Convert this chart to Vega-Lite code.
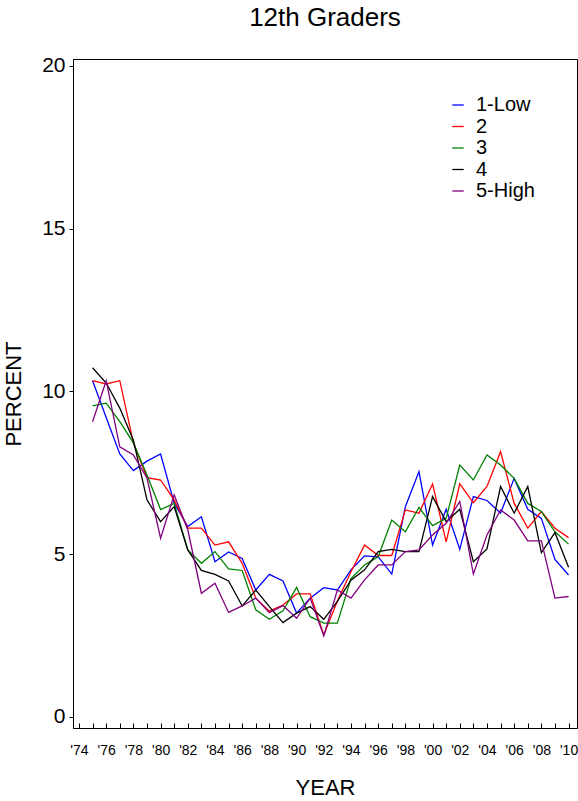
{
  "$schema": "https://vega.github.io/schema/vega-lite/v6.json",
  "width": 504,
  "height": 669,
  "autosize": {"type": "none"},
  "padding": {"left": 73, "top": 59, "right": 1, "bottom": 73},
  "background": "white",
  "title": {"text": "12th Graders", "fontSize": 26, "font": "Liberation Sans", "fontWeight": "normal", "color": "#000", "anchor": "middle", "offset": 24},
  "config": {
    "view": {"stroke": "#000", "strokeWidth": 1},
    "font": "Liberation Sans",
    "axis": {"domainColor": "#000", "tickColor": "#000", "labelColor": "#000", "titleColor": "#000", "grid": false, "labelFont": "Liberation Sans", "titleFont": "Liberation Sans", "titleFontWeight": "normal"},
    "legend": {"labelFont": "Liberation Sans"}
  },
  "data": {"values": [
    {"year":1975,"group":"1-Low","pct":10.33},{"year":1976,"group":"1-Low","pct":9.2},{"year":1977,"group":"1-Low","pct":8.08},{"year":1978,"group":"1-Low","pct":7.57},{"year":1979,"group":"1-Low","pct":7.86},{"year":1980,"group":"1-Low","pct":8.08},{"year":1981,"group":"1-Low","pct":6.57},{"year":1982,"group":"1-Low","pct":5.85},{"year":1983,"group":"1-Low","pct":6.15},{"year":1984,"group":"1-Low","pct":4.77},{"year":1985,"group":"1-Low","pct":5.07},{"year":1986,"group":"1-Low","pct":4.87},{"year":1987,"group":"1-Low","pct":3.9},{"year":1988,"group":"1-Low","pct":4.38},{"year":1989,"group":"1-Low","pct":4.18},{"year":1990,"group":"1-Low","pct":3.19},{"year":1991,"group":"1-Low","pct":3.65},{"year":1992,"group":"1-Low","pct":3.97},{"year":1993,"group":"1-Low","pct":3.9},{"year":1994,"group":"1-Low","pct":4.52},{"year":1995,"group":"1-Low","pct":4.95},{"year":1996,"group":"1-Low","pct":4.92},{"year":1997,"group":"1-Low","pct":4.39},{"year":1998,"group":"1-Low","pct":6.46},{"year":1999,"group":"1-Low","pct":7.54},{"year":2000,"group":"1-Low","pct":5.28},{"year":2001,"group":"1-Low","pct":6.38},{"year":2002,"group":"1-Low","pct":5.15},{"year":2003,"group":"1-Low","pct":6.77},{"year":2004,"group":"1-Low","pct":6.65},{"year":2005,"group":"1-Low","pct":6.26},{"year":2006,"group":"1-Low","pct":7.33},{"year":2007,"group":"1-Low","pct":6.38},{"year":2008,"group":"1-Low","pct":6.1},{"year":2009,"group":"1-Low","pct":4.84},{"year":2010,"group":"1-Low","pct":4.36},
    {"year":1975,"group":"2","pct":10.33},{"year":1976,"group":"2","pct":10.23},{"year":1977,"group":"2","pct":10.33},{"year":1978,"group":"2","pct":8.42},{"year":1979,"group":"2","pct":7.35},{"year":1980,"group":"2","pct":7.28},{"year":1981,"group":"2","pct":6.67},{"year":1982,"group":"2","pct":5.8},{"year":1983,"group":"2","pct":5.8},{"year":1984,"group":"2","pct":5.28},{"year":1985,"group":"2","pct":5.38},{"year":1986,"group":"2","pct":4.72},{"year":1987,"group":"2","pct":3.65},{"year":1988,"group":"2","pct":3.25},{"year":1989,"group":"2","pct":3.44},{"year":1990,"group":"2","pct":3.78},{"year":1991,"group":"2","pct":3.78},{"year":1992,"group":"2","pct":2.52},{"year":1993,"group":"2","pct":3.56},{"year":1994,"group":"2","pct":4.46},{"year":1995,"group":"2","pct":5.28},{"year":1996,"group":"2","pct":4.96},{"year":1997,"group":"2","pct":4.96},{"year":1998,"group":"2","pct":6.36},{"year":1999,"group":"2","pct":6.26},{"year":2000,"group":"2","pct":7.16},{"year":2001,"group":"2","pct":5.38},{"year":2002,"group":"2","pct":7.16},{"year":2003,"group":"2","pct":6.58},{"year":2004,"group":"2","pct":7.08},{"year":2005,"group":"2","pct":8.15},{"year":2006,"group":"2","pct":6.56},{"year":2007,"group":"2","pct":5.8},{"year":2008,"group":"2","pct":6.31},{"year":2009,"group":"2","pct":5.8},{"year":2010,"group":"2","pct":5.51},
    {"year":1975,"group":"3","pct":9.56},{"year":1976,"group":"3","pct":9.64},{"year":1977,"group":"3","pct":9.07},{"year":1978,"group":"3","pct":8.42},{"year":1979,"group":"3","pct":7.43},{"year":1980,"group":"3","pct":6.37},{"year":1981,"group":"3","pct":6.56},{"year":1982,"group":"3","pct":5.13},{"year":1983,"group":"3","pct":4.72},{"year":1984,"group":"3","pct":5.08},{"year":1985,"group":"3","pct":4.55},{"year":1986,"group":"3","pct":4.5},{"year":1987,"group":"3","pct":3.29},{"year":1988,"group":"3","pct":3.0},{"year":1989,"group":"3","pct":3.26},{"year":1990,"group":"3","pct":3.98},{"year":1991,"group":"3","pct":3.08},{"year":1992,"group":"3","pct":2.88},{"year":1993,"group":"3","pct":2.88},{"year":1994,"group":"3","pct":4.25},{"year":1995,"group":"3","pct":4.67},{"year":1996,"group":"3","pct":4.92},{"year":1997,"group":"3","pct":6.05},{"year":1998,"group":"3","pct":5.69},{"year":1999,"group":"3","pct":6.44},{"year":2000,"group":"3","pct":5.88},{"year":2001,"group":"3","pct":6.1},{"year":2002,"group":"3","pct":7.74},{"year":2003,"group":"3","pct":7.28},{"year":2004,"group":"3","pct":8.05},{"year":2005,"group":"3","pct":7.74},{"year":2006,"group":"3","pct":7.33},{"year":2007,"group":"3","pct":6.56},{"year":2008,"group":"3","pct":6.31},{"year":2009,"group":"3","pct":5.69},{"year":2010,"group":"3","pct":5.31},
    {"year":1975,"group":"4","pct":10.73},{"year":1976,"group":"4","pct":10.26},{"year":1977,"group":"4","pct":9.49},{"year":1978,"group":"4","pct":8.5},{"year":1979,"group":"4","pct":6.67},{"year":1980,"group":"4","pct":6.0},{"year":1981,"group":"4","pct":6.46},{"year":1982,"group":"4","pct":5.13},{"year":1983,"group":"4","pct":4.5},{"year":1984,"group":"4","pct":4.38},{"year":1985,"group":"4","pct":4.18},{"year":1986,"group":"4","pct":3.41},{"year":1987,"group":"4","pct":3.9},{"year":1988,"group":"4","pct":3.39},{"year":1989,"group":"4","pct":2.9},{"year":1990,"group":"4","pct":3.19},{"year":1991,"group":"4","pct":3.39},{"year":1992,"group":"4","pct":3.0},{"year":1993,"group":"4","pct":3.55},{"year":1994,"group":"4","pct":4.2},{"year":1995,"group":"4","pct":4.52},{"year":1996,"group":"4","pct":5.08},{"year":1997,"group":"4","pct":5.15},{"year":1998,"group":"4","pct":5.08},{"year":1999,"group":"4","pct":5.08},{"year":2000,"group":"4","pct":6.77},{"year":2001,"group":"4","pct":6.0},{"year":2002,"group":"4","pct":6.38},{"year":2003,"group":"4","pct":4.77},{"year":2004,"group":"4","pct":5.16},{"year":2005,"group":"4","pct":7.08},{"year":2006,"group":"4","pct":6.26},{"year":2007,"group":"4","pct":7.08},{"year":2008,"group":"4","pct":5.05},{"year":2009,"group":"4","pct":5.66},{"year":2010,"group":"4","pct":4.6},
    {"year":1975,"group":"5-High","pct":9.07},{"year":1976,"group":"5-High","pct":10.33},{"year":1977,"group":"5-High","pct":8.3},{"year":1978,"group":"5-High","pct":8.05},{"year":1979,"group":"5-High","pct":7.34},{"year":1980,"group":"5-High","pct":5.49},{"year":1981,"group":"5-High","pct":6.82},{"year":1982,"group":"5-High","pct":5.75},{"year":1983,"group":"5-High","pct":3.8},{"year":1984,"group":"5-High","pct":4.11},{"year":1985,"group":"5-High","pct":3.21},{"year":1986,"group":"5-High","pct":3.41},{"year":1987,"group":"5-High","pct":3.65},{"year":1988,"group":"5-High","pct":3.2},{"year":1989,"group":"5-High","pct":3.42},{"year":1990,"group":"5-High","pct":3.03},{"year":1991,"group":"5-High","pct":3.65},{"year":1992,"group":"5-High","pct":2.49},{"year":1993,"group":"5-High","pct":3.9},{"year":1994,"group":"5-High","pct":3.65},{"year":1995,"group":"5-High","pct":4.21},{"year":1996,"group":"5-High","pct":4.67},{"year":1997,"group":"5-High","pct":4.67},{"year":1998,"group":"5-High","pct":5.08},{"year":1999,"group":"5-High","pct":5.13},{"year":2000,"group":"5-High","pct":5.59},{"year":2001,"group":"5-High","pct":5.95},{"year":2002,"group":"5-High","pct":6.62},{"year":2003,"group":"5-High","pct":4.39},{"year":2004,"group":"5-High","pct":5.59},{"year":2005,"group":"5-High","pct":6.36},{"year":2006,"group":"5-High","pct":6.05},{"year":2007,"group":"5-High","pct":5.41},{"year":2008,"group":"5-High","pct":5.41},{"year":2009,"group":"5-High","pct":3.65},{"year":2010,"group":"5-High","pct":3.7}
  ]},
  "mark": {"type": "line", "strokeWidth": 1.3},
  "encoding": {
    "x": {
      "field": "year", "type": "quantitative",
      "scale": {"domain": [1973.56, 2010.62], "nice": false, "zero": false},
      "axis": {
        "title": "YEAR", "titleFontSize": 22, "titlePadding": 20,
        "values": [1974,1975,1976,1977,1978,1979,1980,1981,1982,1983,1984,1985,1986,1987,1988,1989,1990,1991,1992,1993,1994,1995,1996,1997,1998,1999,2000,2001,2002,2003,2004,2005,2006,2007,2008,2009,2010],
        "labelExpr": "datum.value % 2 == 0 ? \"'\" + substring(toString(datum.value), 2, 4) : ''",
        "labelFontSize": 14, "labelOverlap": false, "labelFlush": false,
        "tickSize": -5, "labelPadding": 20
      }
    },
    "y": {
      "field": "pct", "type": "quantitative",
      "scale": {"domain": [-0.34, 20.215], "nice": false, "zero": false},
      "axis": {
        "title": "PERCENT", "titleFontSize": 22, "titlePadding": 16,
        "values": [0, 5, 10, 15, 20],
        "labelFontSize": 21, "tickSize": 4, "labelPadding": 4
      }
    },
    "color": {
      "field": "group", "type": "nominal",
      "scale": {"domain": ["1-Low", "2", "3", "4", "5-High"], "range": ["#0000ff", "#ff0000", "#008000", "#000000", "#800080"]},
      "legend": {
        "title": null, "orient": "none", "legendX": 375, "legendY": 36,
        "symbolType": "stroke", "symbolSize": 130, "symbolStrokeWidth": 1.3,
        "labelFontSize": 20, "labelColor": "#000", "labelOffset": 8, "rowPadding": 1.5
      }
    }
  }
}
